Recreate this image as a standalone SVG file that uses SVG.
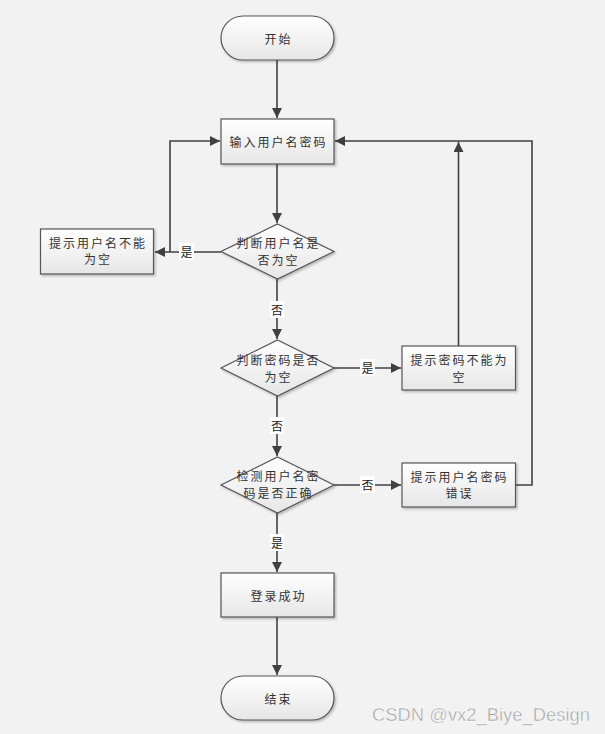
<svg xmlns="http://www.w3.org/2000/svg" width="605" height="734" viewBox="0 0 605 734">
<defs>
<linearGradient id="g" x1="0" y1="0" x2="0" y2="1">
<stop offset="0" stop-color="#ffffff"/>
<stop offset="1" stop-color="#e6e6e6"/>
</linearGradient>
<filter id="sh" x="-10%" y="-10%" width="130%" height="140%">
<feDropShadow dx="1.5" dy="1.5" stdDeviation="1" flood-color="#000" flood-opacity="0.25"/>
</filter>
<marker id="ah" viewBox="0 0 10 10" refX="10" refY="5" markerWidth="10" markerHeight="10" markerUnits="userSpaceOnUse" orient="auto">
<path d="M0,0 L10,5 L0,10 Z" fill="#404040"/>
</marker>
</defs>
<style>
.shape{fill:url(#g);stroke:#555;stroke-width:1.2;filter:url(#sh)}
.t{font-family:"Noto Sans CJK SC","Noto Sans",sans-serif;font-size:12px;fill:#333;text-anchor:middle;dominant-baseline:central;letter-spacing:2px}
.c{fill:none;stroke:#404040;stroke-width:1.6}
.lb{fill:#fff}
.l{font-family:"Noto Sans CJK SC","Noto Sans",sans-serif;font-size:12px;fill:#222;text-anchor:middle;dominant-baseline:central}
</style>
<rect width="605" height="734" fill="#f2f2f2"/>
<g id="connectors">
<path class="c" d="M277,60 V118" marker-end="url(#ah)"/>
<path class="c" d="M277,164 V223" marker-end="url(#ah)"/>
<path class="c" d="M221,252 H155" marker-end="url(#ah)"/>
<path class="c" d="M170,252 V141 H220" marker-end="url(#ah)"/>
<path class="c" d="M277,279 V339" marker-end="url(#ah)"/>
<path class="c" d="M334,368 H401" marker-end="url(#ah)"/>
<path class="c" d="M458.5,346 V142" marker-end="url(#ah)"/>
<path class="c" d="M277,396 V456" marker-end="url(#ah)"/>
<path class="c" d="M334,485 H401" marker-end="url(#ah)"/>
<path class="c" d="M516,485 H532 V141 H335" marker-end="url(#ah)"/>
<path class="c" d="M277,513 V572" marker-end="url(#ah)"/>
<path class="c" d="M277,617 V675" marker-end="url(#ah)"/>
<rect class="lb" x="179" y="243" width="15" height="17"/>
<text class="l" x="186.5" y="251.5">是</text>
<rect class="lb" x="270" y="301" width="14" height="17"/>
<text class="l" x="277" y="309.5">否</text>
<rect class="lb" x="360" y="359" width="15" height="17"/>
<text class="l" x="367.5" y="367.5">是</text>
<rect class="lb" x="270" y="417" width="14" height="17"/>
<text class="l" x="277" y="425.5">否</text>
<rect class="lb" x="360" y="476" width="15" height="17"/>
<text class="l" x="367.5" y="484.5">否</text>
<rect class="lb" x="270" y="534" width="14" height="17"/>
<text class="l" x="277" y="542.5">是</text>
</g>
<g id="start">
<rect class="shape" x="221" y="16" width="113" height="44" rx="22"/>
<text class="t" x="278.5" y="38">开始</text>
</g>
<g id="input">
<rect class="shape" x="221" y="119" width="113" height="45"/>
<text class="t" x="278.5" y="141">输入用户名密码</text>
</g>
<g id="check-user">
<polygon class="shape" points="277.5,224 334,251.5 277.5,279 221,251.5"/>
<text class="t" x="278.5" y="242">判断用户名是</text>
<text class="t" x="278.5" y="259">否为空</text>
</g>
<g id="user-empty">
<rect class="shape" x="40.5" y="229" width="113" height="45"/>
<text class="t" x="98" y="242">提示用户名不能</text>
<text class="t" x="98" y="258">为空</text>
</g>
<g id="check-pass">
<polygon class="shape" points="277.5,340 334,368 277.5,396 221,368"/>
<text class="t" x="278.5" y="359">判断密码是否</text>
<text class="t" x="278.5" y="376">为空</text>
</g>
<g id="pass-empty">
<rect class="shape" x="402" y="346" width="113.5" height="44"/>
<text class="t" x="459.5" y="359">提示密码不能为</text>
<text class="t" x="459.5" y="376">空</text>
</g>
<g id="check-both">
<polygon class="shape" points="277.5,457 334,485 277.5,513 221,485"/>
<text class="t" x="278.5" y="475">检测用户名密</text>
<text class="t" x="278.5" y="492">码是否正确</text>
</g>
<g id="wrong">
<rect class="shape" x="402" y="463" width="113.5" height="44"/>
<text class="t" x="459.5" y="476">提示用户名密码</text>
<text class="t" x="459.5" y="492">错误</text>
</g>
<g id="success">
<rect class="shape" x="221" y="573" width="113" height="44"/>
<text class="t" x="278.5" y="595">登录成功</text>
</g>
<g id="end">
<rect class="shape" x="221" y="676" width="113" height="44" rx="22"/>
<text class="t" x="278.5" y="698">结束</text>
</g>
<text x="590" y="721" font-family="'Liberation Sans',Arial,sans-serif" font-size="18.4" fill="#a0a0a0" text-anchor="end" stroke="#ffffff" stroke-width="0.4">CSDN @vx2_Biye_Design</text>
</svg>
